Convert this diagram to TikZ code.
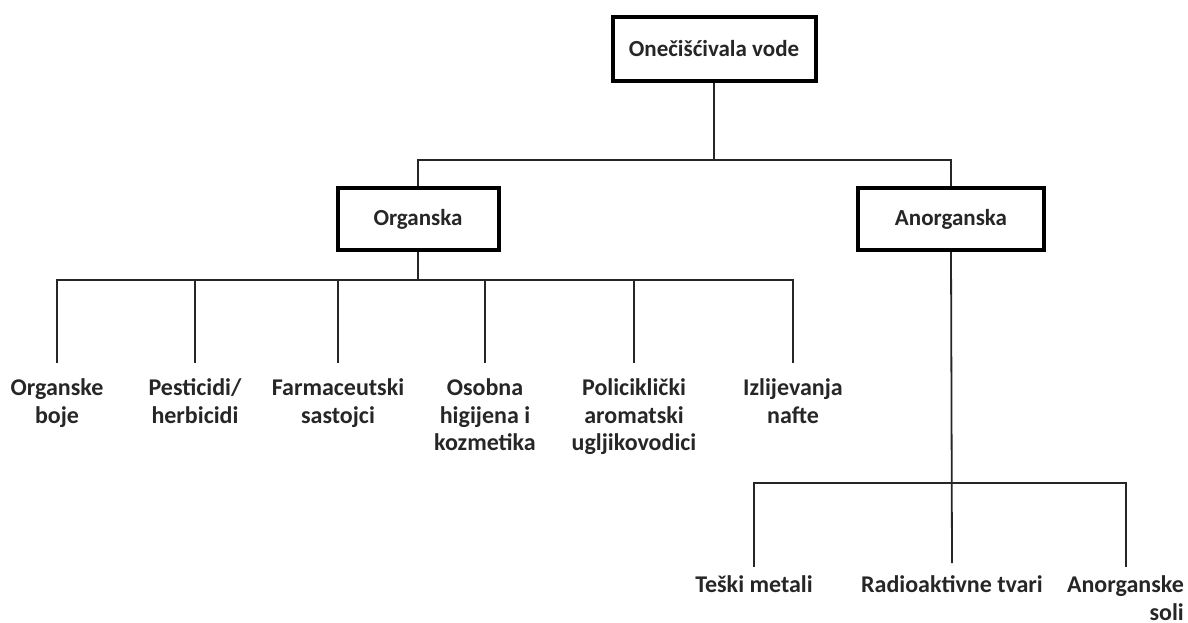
\documentclass[tikz,border=0pt]{standalone}
\usepackage{fontspec}
\setmainfont{Carlito}
\usetikzlibrary{positioning}
\definecolor{inkgray}{HTML}{262626}

\begin{document}
\begin{tikzpicture}[x=1pt,y=-1pt,
	catbox/.style={draw=black, line width=4pt, fill=white, text=inkgray,
		font=\fontsize{23}{26}\selectfont\bfseries, inner sep=0pt},
	leaf/.style={text=inkgray, font=\fontsize{24}{27.5}\selectfont\bfseries,
		align=center, inner sep=0pt, outer ysep=16pt, anchor=north},
	branch/.style={draw=inkgray, line width=1.8pt}]

	\useasboundingbox (0,0) rectangle (1188,622);

	% categories
	\node[catbox, minimum width=203pt, minimum height=64pt] (top) at (714,49) {Onečišćivala vode};
	\node[catbox, minimum width=161pt, minimum height=62pt] (org) at (418,219) {Organska};
	\node[catbox, minimum width=186pt, minimum height=62pt] (anorg) at (951,219) {Anorganska};

	\coordinate (jtop) at (714,160);
	\coordinate (jorg) at (418,280);
	\coordinate (janorg) at (952,483);

	% organic leaves
	\node[leaf] (o1) at (57,363) {Organske\\boje};
	\node[leaf] (o2) at (195,363) {Pesticidi/\\herbicidi};
	\node[leaf] (o3) at (338,363) {Farmaceutski\\sastojci};
	\node[leaf] (o4) at (485,363) {Osobna\\higijena i\\kozmetika};
	\node[leaf] (o5) at (634,363) {Policiklički\\aromatski\\ugljikovodici};
	\node[leaf] (o6) at (793,363) {Izlijevanja\\nafte};

	% inorganic leaves
	\node[leaf, outer ysep=9pt] (a1) at (754,567) {Teški metali};
	\node[leaf, outer ysep=13pt] (a2) at (952,563) {Radioaktivne tvari};
	\node[leaf, align=right, anchor=north east, outer ysep=9pt] (a3) at (1184,567) {Anorganske\\soli};
	\coordinate (a3top) at (1126,567);

	% connectors
	\draw[branch] (top.south) -- (jtop);
	\draw[branch] (org.north) |- (jtop) -| (anorg.north);

	\draw[branch] (org.south) -- (jorg);
	\draw[branch] (o1.north) |- (jorg) -| (o6.north);
	\foreach \n in {2,...,5}
		\draw[branch] (o\n.north) -- (o\n.north |- jorg);

	\draw[branch] (anorg.south) -- (a2.north);
	\draw[branch] (a1.north) |- (janorg) -| (a3top);

\end{tikzpicture}
\end{document}
